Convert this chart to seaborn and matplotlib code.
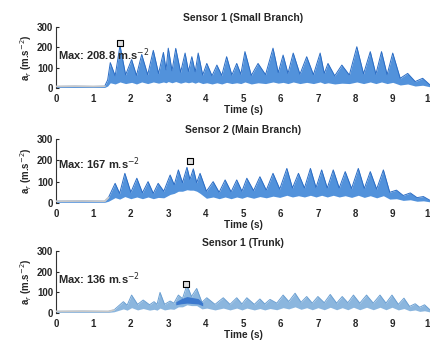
import matplotlib
matplotlib.use("Agg")
import matplotlib.pyplot as plt
import seaborn as sns

# ---------------- data ----------------
titles = ["Sensor 1 (Small Branch)", "Sensor 2 (Main Branch)", "Sensor 1 (Trunk)"]
max_labels = ["Max: 208.8 m.s$^{-2}$", "Max: 167 m.s$^{-2}$", "Max: 136 m.s$^{-2}$"]
x_ticks = [0, 1, 2, 3, 4, 5, 6, 7, 8, 9, 10]
y_ticks = [0, 100, 200, 300]

# Panel 1 envelope knots
t1 = [0.0, 0.5, 1.0, 1.3, 1.38, 1.45, 1.58, 1.71, 1.86, 2.02, 2.15, 2.29, 2.45, 2.60,
      2.74, 2.87, 2.94, 3.00, 3.10, 3.20, 3.33, 3.45, 3.54, 3.63, 3.72, 3.80, 3.92,
      4.03, 4.17, 4.30, 4.43, 4.56, 4.70, 4.83, 4.94, 5.05, 5.22, 5.40, 5.60, 5.80,
      5.94, 6.07, 6.20, 6.34, 6.52, 6.70, 6.88, 7.06, 7.17, 7.27, 7.45, 7.64, 7.84,
      8.04, 8.22, 8.40, 8.55, 8.70, 8.85, 9.00, 9.20, 9.40, 9.60, 9.80, 10.0]
up1 = [8, 9, 8, 9, 40, 125, 60, 209, 65, 140, 62, 165, 66, 185,
       72, 175, 90, 196, 85, 195, 78, 172, 82, 154, 80, 172, 64,
       121, 60, 113, 62, 154, 64, 121, 68, 179, 62, 121, 66, 196,
       76, 162, 72, 172, 68, 154, 66, 172, 72, 121, 60, 113, 64,
       203, 70, 179, 68, 179, 66, 172, 48, 72, 32, 48, 15]
lo1 = [3, 3, 3, 3, 10, 26, 20, 30, 22, 28, 20, 30, 22, 30,
       24, 30, 26, 32, 26, 32, 24, 30, 26, 30, 24, 30, 22,
       26, 20, 26, 20, 28, 22, 26, 22, 30, 20, 26, 22, 30,
       24, 28, 22, 30, 22, 28, 22, 30, 22, 26, 20, 24, 22,
       30, 22, 30, 22, 30, 22, 28, 15, 20, 10, 14, 6]

# Panel 2 envelope knots
t2 = [0.0, 0.7, 1.3, 1.40, 1.58, 1.70, 1.84, 2.00, 2.16, 2.31, 2.46, 2.60, 2.73, 2.88,
      3.05, 3.16, 3.27, 3.38, 3.50, 3.58, 3.67, 3.76, 3.85, 4.02, 4.20, 4.36, 4.52,
      4.68, 4.83, 4.97, 5.10, 5.28, 5.45, 5.62, 5.80, 5.98, 6.17, 6.32, 6.48, 6.64,
      6.80, 6.95, 7.10, 7.25, 7.41, 7.57, 7.73, 7.90, 8.08, 8.24, 8.40, 8.57, 8.75,
      8.92, 9.10, 9.28, 9.47, 9.65, 9.82, 10.0]
up2 = [8, 9, 8, 25, 92, 45, 139, 50, 116, 48, 100, 45, 92, 55,
       131, 85, 155, 95, 167, 110, 160, 95, 139, 55, 100, 50, 108,
       52, 108, 55, 116, 58, 123, 60, 139, 65, 162, 70, 139, 70,
       162, 72, 155, 70, 155, 70, 147, 68, 162, 68, 147, 65, 155,
       50, 60, 35, 47, 25, 30, 12]
lo2 = [3, 3, 3, 8, 25, 18, 30, 20, 28, 20, 28, 20, 26, 24,
       40, 45, 55, 55, 62, 60, 60, 55, 45, 22, 28, 20, 28,
       20, 28, 22, 30, 22, 30, 24, 32, 26, 36, 28, 34, 28,
       36, 28, 36, 28, 36, 28, 34, 26, 36, 26, 34, 24, 34,
       18, 20, 12, 15, 8, 10, 5]

# Panel 3 envelope knots
t3 = [0.0, 0.7, 1.4, 1.55, 1.80, 1.90, 2.02, 2.18, 2.33, 2.50, 2.62, 2.70, 2.78, 2.90,
      3.05, 3.15, 3.27, 3.38, 3.50, 3.62, 3.76, 3.90, 4.03, 4.25, 4.47, 4.65, 4.83,
      4.97, 5.10, 5.30, 5.45, 5.58, 5.72, 5.90, 6.07, 6.22, 6.39, 6.55, 6.70, 6.85,
      7.00, 7.17, 7.33, 7.50, 7.65, 7.80, 7.95, 8.12, 8.30, 8.48, 8.66, 8.82, 8.98,
      9.15, 9.30, 9.45, 9.60, 9.72, 9.85, 10.0]
up3 = [8, 9, 8, 15, 55, 38, 87, 42, 63, 40, 55, 42, 100, 42,
       58, 48, 87, 70, 136, 80, 119, 52, 74, 42, 74, 42, 74,
       44, 74, 42, 68, 44, 66, 48, 87, 56, 96, 52, 80, 48,
       80, 50, 90, 48, 80, 50, 87, 48, 87, 48, 87, 48, 87,
       42, 72, 32, 45, 28, 40, 15]
lo3 = [3, 3, 3, 6, 20, 14, 26, 15, 22, 14, 18, 14, 24, 15,
       20, 18, 30, 30, 40, 36, 36, 20, 24, 15, 24, 15, 24,
       15, 24, 15, 22, 15, 22, 16, 26, 20, 30, 18, 26, 16,
       26, 16, 28, 16, 26, 16, 28, 16, 28, 16, 28, 16, 28,
       15, 22, 11, 15, 8, 11, 5]

# darker core segment seen in panel 3
t3_core = [3.20, 3.35, 3.50, 3.65, 3.80, 3.92]
up3_core = [55, 70, 80, 75, 70, 50]
lo3_core = [40, 45, 48, 46, 44, 35]

# max-marker positions (data-tip squares)
mark_t = [1.71, 3.58, 3.48]
mark_v = [220, 198, 139]
# max label anchor positions
lab_t = [0.05, 0.05, 0.05]
lab_v = [165, 183, 168]

# ---------------- styling ----------------
sns.set_style("white")
plt.rcParams['font.family'] = ['Liberation Sans', 'DejaVu Sans']

fig = plt.figure(figsize=(4.31, 3.44), dpi=100)
positions = [[0.130, 0.744, 0.868, 0.1775],
             [0.130, 0.410, 0.868, 0.186],
             [0.130, 0.090, 0.868, 0.180]]
fills = ['#3f86d8', '#3f86d8', '#7eaedb']
lines = ['#2a6cc4', '#2a6cc4', '#6a9fd2']

data = [(t1, up1, lo1), (t2, up2, lo2), (t3, up3, lo3)]

for i, (pos, (t, up, lo)) in enumerate(zip(positions, data)):
    ax = fig.add_axes(pos)
    ax.fill_between(t, lo, up, color=fills[i], alpha=0.9, lw=0, zorder=2)
    sns.lineplot(x=t, y=up, ax=ax, color=lines[i], lw=0.7, zorder=3)
    sns.lineplot(x=t[:4], y=up[:4], ax=ax, color='#c8c8c8', lw=1.2, zorder=4)
    if i == 2:
        ax.fill_between(t3_core, lo3_core, up3_core, color='#2f6fcc', alpha=0.85, lw=0, zorder=3)
    sns.scatterplot(x=[mark_t[i]], y=[mark_v[i]], ax=ax, marker='s', s=14,
                    color='#dddddd', edgecolor='black', linewidth=0.8, zorder=5)
    ax.text(lab_t[i], lab_v[i], max_labels[i], fontsize=8, fontweight='bold',
            ha='left', va='center', zorder=6)

    ax.set_xlim(0, 10)
    ax.set_ylim(0, 300)
    ax.set_xticks(x_ticks)
    ax.set_yticks(y_ticks)
    ax.set_xticklabels([str(v) for v in x_ticks], fontsize=7, fontweight='bold')
    ax.set_yticklabels([str(v) for v in y_ticks], fontsize=7, fontweight='bold')
    ax.tick_params(axis='x', length=0, pad=4)
    ax.tick_params(axis='y', length=2, width=0.8, direction='in', pad=2, left=True)
    for s in ['top', 'right', 'bottom']:
        ax.spines[s].set_visible(False)
    ax.spines['left'].set_linewidth(0.8)
    ax.spines['left'].set_color('#333333')
    ax.set_title(titles[i], fontsize=7.5, fontweight='bold', pad=4)
    ax.set_xlabel('Time (s)', fontsize=7.3, fontweight='bold', labelpad=1)
    ax.set_ylabel('a$_r$ (m.s$^{-2}$)', fontsize=7, fontweight='bold', labelpad=2)
    ax.patch.set_alpha(0)

fig.savefig('out.png', dpi=100)
